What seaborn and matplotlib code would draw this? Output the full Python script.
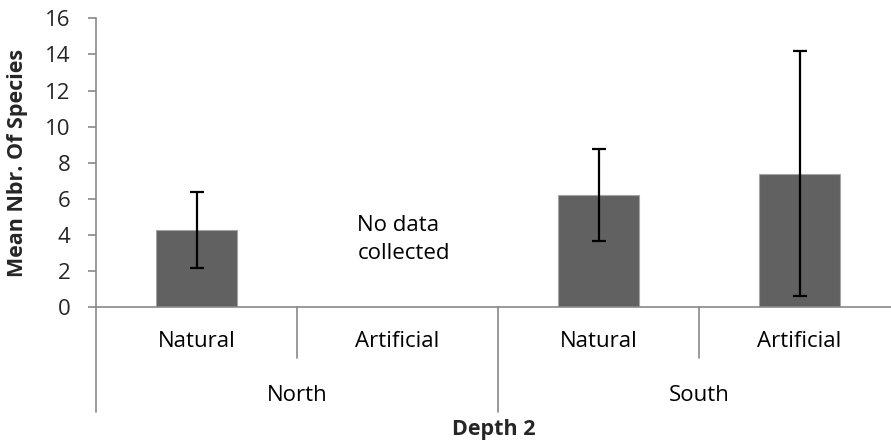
"""
Depth 2 bar chart: mean number of species per region and habitat, with error bars.
"""

import matplotlib
matplotlib.use("Agg")
import matplotlib.pyplot as plt
import matplotlib.transforms as mtransforms
import numpy as np
import pandas as pd
import seaborn as sns

# Data
regions = ["North", "North", "South", "South"]
habitats = ["Natural", "Artificial", "Natural", "Artificial"]
mean_species = [4.3, np.nan, 6.2, 7.4]
error_species = [2.1, np.nan, 2.55, 6.8]
group_names = ["North", "South"]
y_ticks = [0, 2, 4, 6, 8, 10, 12, 14, 16]
note_text = "No data\ncollected"

BAR_COLOR = "#616161"
AXIS_COLOR = "#898989"
FONT_SIZE = 16

sns.set_theme(style="white")
plt.rcParams["font.family"] = ["Open Sans", "DejaVu Sans"]

df = pd.DataFrame({
    "region": regions,
    "habitat": habitats,
    "mean": mean_species,
    "err": error_species,
})
df["key"] = df["region"] + " " + df["habitat"]
order = list(df["key"])

fig = plt.figure(figsize=(8.91, 4.46), dpi=100)
ax = fig.add_axes([96 / 891, (446 - 307.3) / 446, 795 / 891, 289 / 446])

sns.barplot(data=df, x="key", y="mean", order=order, color=BAR_COLOR,
            width=0.4, errorbar=None, edgecolor="#a5a5a5", linewidth=0.8,
            saturation=1, ax=ax)

# error bars drawn at the category positions seaborn used
xpos = np.arange(len(order))
ok = ~df["mean"].isna()
ax.errorbar(xpos[ok], df["mean"][ok], yerr=df["err"][ok], fmt="none",
            ecolor="black", elinewidth=1.6, capsize=5, capthick=1.6, zorder=5)

ax.set_ylim(0, 16)
ax.set_xlim(-0.5, -0.5 + 795 / 201)
ax.set_yticks(y_ticks)
ax.set_yticklabels([str(t) for t in y_ticks], fontsize=FONT_SIZE)
ax.set_xticks([])
ax.set_xlabel("")
ax.set_ylabel("Mean Nbr. Of Species", fontsize=FONT_SIZE - 0.5, fontweight="bold")
ax.yaxis.set_label_coords(-0.0855, 0.5)

for side in ["top", "right"]:
    ax.spines[side].set_visible(False)
for side in ["left", "bottom"]:
    ax.spines[side].set_color(AXIS_COLOR)
    ax.spines[side].set_linewidth(1.2)
ax.tick_params(axis="y", which="major", direction="out", length=6, width=1.2,
               color=AXIS_COLOR, pad=12.5, left=True)

# multi-level category axis
blend = mtransforms.blended_transform_factory(ax.transData, ax.transAxes)
for i, hab in enumerate(habitats):
    ax.text(i, -0.12, hab, transform=blend, ha="center", va="center",
            fontsize=FONT_SIZE, color="black")
for g, name in enumerate(group_names):
    ax.text(2 * g + 0.5, -0.305, name, transform=blend, ha="center", va="center",
            fontsize=FONT_SIZE, color="black")

line_kw = dict(color=AXIS_COLOR, linewidth=1.2, transform=blend, clip_on=False)
ax.plot([-0.5, -0.5], [0, -0.362], **line_kw)
ax.plot([1.5, 1.5], [0, -0.362], **line_kw)
for xb in [0.5, 2.5]:
    ax.plot([xb, xb], [0, -0.175], **line_kw)

ax.text(0.8, 3.75, note_text, ha="left", va="center", fontsize=FONT_SIZE,
        color="black", linespacing=1.45)

fig.text(493.5 / 891, 1 - 430 / 446, "Depth 2", ha="center", va="center",
         fontsize=FONT_SIZE - 0.5, fontweight="bold")

fig.savefig("out.png", dpi=100)
plt.close(fig)
